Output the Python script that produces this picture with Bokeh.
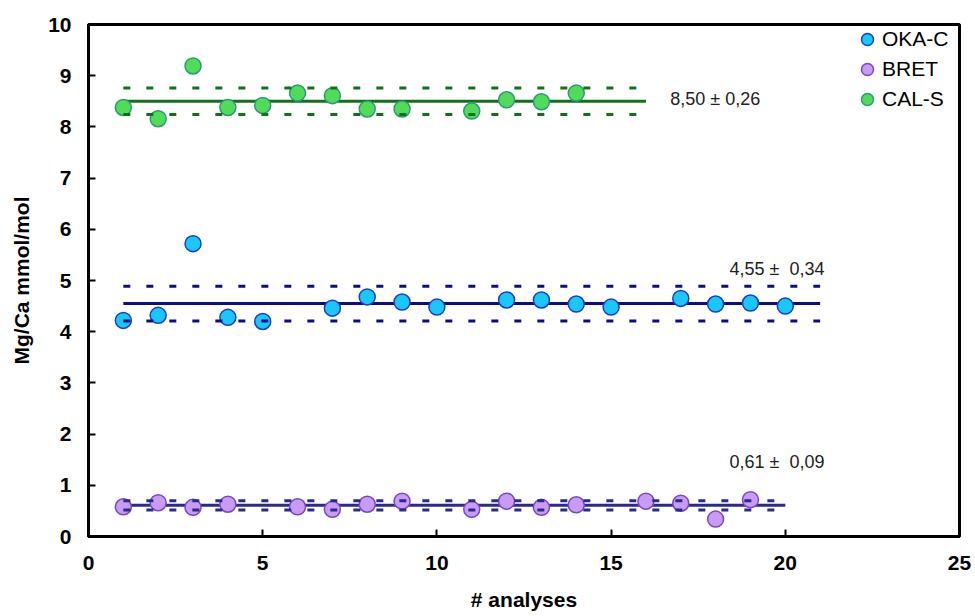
from bokeh.plotting import figure
from bokeh.models import ColumnDataSource, Legend, LegendItem, Range1d, FixedTicker
from bokeh.embed import file_html
from bokeh.resources import INLINE
from bokeh.core.properties import value

# ---------------- data ----------------
series_names = ["OKA-C", "BRET", "CAL-S"]

oka_x = [1, 2, 3, 4, 5, 7, 8, 9, 10, 12, 13, 14, 15, 17, 18, 19, 20]
oka_y = [4.22, 4.32, 5.72, 4.28, 4.20, 4.46, 4.68, 4.58, 4.48, 4.62, 4.62, 4.54, 4.48, 4.65, 4.54, 4.56, 4.50]

bret_x = [1, 2, 3, 4, 6, 7, 8, 9, 11, 12, 13, 14, 16, 17, 18, 19]
bret_y = [0.58, 0.66, 0.57, 0.63, 0.58, 0.53, 0.63, 0.69, 0.53, 0.69, 0.57, 0.62, 0.69, 0.65, 0.34, 0.72]

cal_x = [1, 2, 3, 4, 5, 6, 7, 8, 9, 11, 12, 13, 14]
cal_y = [8.38, 8.16, 9.19, 8.38, 8.42, 8.66, 8.61, 8.35, 8.35, 8.31, 8.53, 8.49, 8.66]

means = [4.55, 0.61, 8.50]
sds = [0.34, 0.09, 0.26]
line_start = [1, 1, 1]
line_end = [21, 20, 16]
stat_labels = ["4,55 \u00b1\u00a0 0,34", "0,61 \u00b1\u00a0 0,09", "8,50 \u00b1 0,26"]

x_ticks = [0, 5, 10, 15, 20, 25]
y_ticks = [0, 1, 2, 3, 4, 5, 6, 7, 8, 9, 10]

# ---------------- styles ----------------
marker_fill = ["#19c8f8", "#c99cf4", "#50dc58"]
marker_line = ["#1f3cc8", "#7a48c0", "#2c9a78"]
line_colors = ["#0c0c8a", "#2a2a8e", "#137018"]
# annotation offsets (relative to line end / mean), in data units
ann_dx = [-2.6, -1.6, 0.7]
ann_dy = [0.68, 0.85, 0.05]

FONT = "Liberation Sans"

p = figure(width=975, height=616, output_backend="svg", toolbar_location=None,
           x_range=Range1d(0, 25), y_range=Range1d(0, 10),
           min_border_left=88, min_border_right=16, min_border_top=24, min_border_bottom=80,
           background_fill_color="white", border_fill_color="white")
p.grid.visible = False
p.outline_line_color = "black"
p.outline_line_width = 3
p.outline_line_alpha = 1.0

for ax in (p.xaxis[0], p.yaxis[0]):
    ax.axis_line_width = 3
    ax.axis_line_color = "black"
    ax.major_tick_in = 7
    ax.major_tick_out = 0
    ax.major_tick_line_width = 2
    ax.minor_tick_line_color = None
    ax.major_label_text_font = FONT
    ax.major_label_text_font_style = "bold"
    ax.major_label_text_font_size = "21px"
    ax.major_label_text_color = "black"
    ax.axis_label_text_font = FONT
    ax.axis_label_text_font_style = "bold"
    ax.axis_label_text_font_size = "21px"
    ax.axis_label_text_color = "black"

p.xaxis[0].ticker = FixedTicker(ticks=x_ticks)
p.yaxis[0].ticker = FixedTicker(ticks=y_ticks)
p.xaxis[0].axis_label = "# analyses"
p.yaxis[0].axis_label = "Mg/Ca mmol/mol"
p.xaxis[0].major_label_standoff = 19
p.xaxis[0].axis_label_standoff = 15
p.yaxis[0].major_label_standoff = 17
p.yaxis[0].axis_label_standoff = 12

stats = ColumnDataSource(dict(
    x0=line_start, x1=line_end, m=means,
    lo=[m - s for m, s in zip(means, sds)],
    hi=[m + s for m, s in zip(means, sds)],
    color=line_colors,
    ax=[e + d for e, d in zip(line_end, ann_dx)],
    ay=[m + d for m, d in zip(means, ann_dy)],
    txt=stat_labels,
))

# mean lines
p.segment(x0="x0", y0="m", x1="x1", y1="m", line_color="color", line_width=3, source=stats)

# points
renderers = []
for xs, ys, fc, lc in zip([oka_x, bret_x, cal_x], [oka_y, bret_y, cal_y], marker_fill, marker_line):
    r = p.scatter(x=xs, y=ys, marker="circle", size=16, fill_color=fc, line_color=lc, line_width=1.5)
    renderers.append(r)

# +/- sd dashed lines
p.segment(x0="x0", y0="lo", x1="x1", y1="lo", line_color="color", line_width=3,
          line_dash="7 16", source=stats)
p.segment(x0="x0", y0="hi", x1="x1", y1="hi", line_color="color", line_width=3,
          line_dash="7 16", source=stats)

# annotations
p.text(x="ax", y="ay", text="txt", source=stats, text_font=value(FONT),
       text_font_size="18px", text_color="#222222", text_baseline="middle", text_align="left")

legend = Legend(items=[LegendItem(label=n, renderers=[r]) for n, r in zip(series_names, renderers)],
                location="top_right", glyph_width=30, glyph_height=30, spacing=0,
                label_standoff=0, padding=0, margin=0, label_width=77,
                label_text_font=FONT, label_text_font_size="21px", label_text_color="black",
                background_fill_alpha=0, border_line_color=None)
p.add_layout(legend)

open("out.html", "w").write(file_html(p, INLINE))
